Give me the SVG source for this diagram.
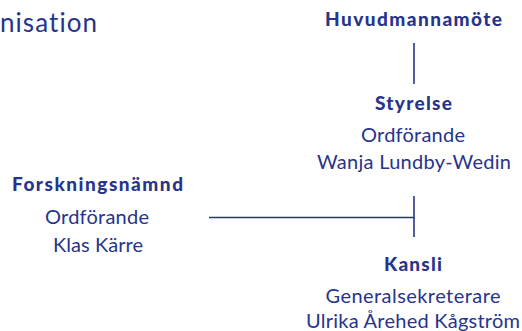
<svg xmlns="http://www.w3.org/2000/svg" width="522" height="331" viewBox="0 0 522 331">
<style>
text{font-family:"Lato","Liberation Sans",sans-serif;fill:#27348b;text-anchor:middle;font-variant-ligatures:none}
.t{font-size:26px;text-anchor:start}
.b{font-size:19px;font-weight:900}
.r{font-size:20px}
.c line{stroke:#27348b;stroke-width:1.6}
</style>
<rect width="522" height="331" fill="#fff"/>
<text class="t" x="0" y="32" textLength="97" lengthAdjust="spacing">nisation</text>
<g class="c">
<line x1="414" y1="43" x2="414" y2="84"/>
<line x1="209" y1="217.5" x2="414" y2="217.5"/>
<line x1="414" y1="196" x2="414" y2="237"/>
</g>
<g id="huvudmannamote"><text class="b" x="413.5" y="26" textLength="177" lengthAdjust="spacing">Huvudmannamöte</text></g>
<g id="styrelse"><text class="b" x="413.5" y="109.5" textLength="77" lengthAdjust="spacing">Styrelse</text><text class="r" x="413" y="141.5" textLength="104" lengthAdjust="spacing">Ordförande</text><text class="r" x="414" y="168.5" textLength="194" lengthAdjust="spacing">Wanja Lundby-Wedin</text></g>
<g id="forskningsnamnd"><text class="b" x="97.5" y="191" textLength="171" lengthAdjust="spacing">Forskningsnämnd</text><text class="r" x="97" y="223.5" textLength="104" lengthAdjust="spacing">Ordförande</text><text class="r" x="98" y="251.5" textLength="90" lengthAdjust="spacing">Klas Kärre</text></g>
<g id="kansli"><text class="b" x="413" y="270.5" textLength="58" lengthAdjust="spacing">Kansli</text><text class="r" x="413" y="302.5" textLength="175" lengthAdjust="spacing">Generalsekreterare</text><text class="r" x="413" y="328" textLength="214" lengthAdjust="spacing">Ulrika Årehed Kågström</text></g>
</svg>
